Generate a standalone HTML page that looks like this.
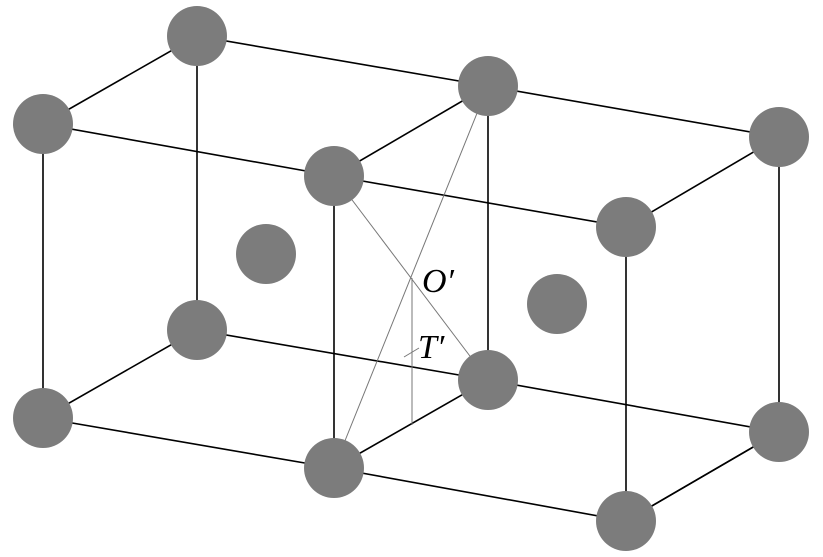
<!DOCTYPE html>
<html><head><meta charset="utf-8"><style>html,body{margin:0;padding:0;background:#fff}svg{display:block}</style></head>
<body>
<svg width="823" height="557" viewBox="0 0 823 557" xmlns="http://www.w3.org/2000/svg">
<g stroke="#000" stroke-width="1.6" fill="none">
<polyline points="43,124 197,36 488,86 779,137 779,432 626,521 334,468 43,418 43,124 334,176 626,227 779,137"/>
<line x1="334" y1="176" x2="334" y2="468"/>
<line x1="626" y1="227" x2="626" y2="521"/>
<line x1="197" y1="36" x2="197" y2="330"/>
<line x1="488" y1="86" x2="488" y2="380"/>
<line x1="334" y1="176" x2="488" y2="86"/>
<polyline points="43,418 197,330 488,380 779,432"/>
<line x1="334" y1="468" x2="488" y2="380"/>
<line x1="626" y1="521" x2="779" y2="432"/>
</g>
<g stroke="#777" stroke-width="1" fill="none">
<line x1="334" y1="468" x2="488" y2="86"/>
<line x1="334" y1="176" x2="488" y2="380"/>
<line x1="412" y1="278" x2="412" y2="425"/>
<line x1="404" y1="357" x2="419" y2="348"/>
</g>
<g fill="#7c7c7c">
<circle cx="197" cy="36" r="30"/><circle cx="43" cy="124" r="30"/>
<circle cx="488" cy="86" r="30"/><circle cx="334" cy="176" r="30"/>
<circle cx="779" cy="137" r="30"/><circle cx="626" cy="227" r="30"/>
<circle cx="197" cy="330" r="30"/><circle cx="43" cy="418" r="30"/>
<circle cx="488" cy="380" r="30"/><circle cx="334" cy="468" r="30"/>
<circle cx="779" cy="432" r="30"/><circle cx="626" cy="521" r="30"/>
<circle cx="266" cy="254" r="30"/><circle cx="557" cy="304" r="30"/>
</g>
<g font-family="Liberation Serif, serif" font-style="italic" font-size="34" fill="#000">
<text x="422" y="292">O′</text>
<text x="418" y="358">T′</text>
</g>
</svg>
</body></html>
